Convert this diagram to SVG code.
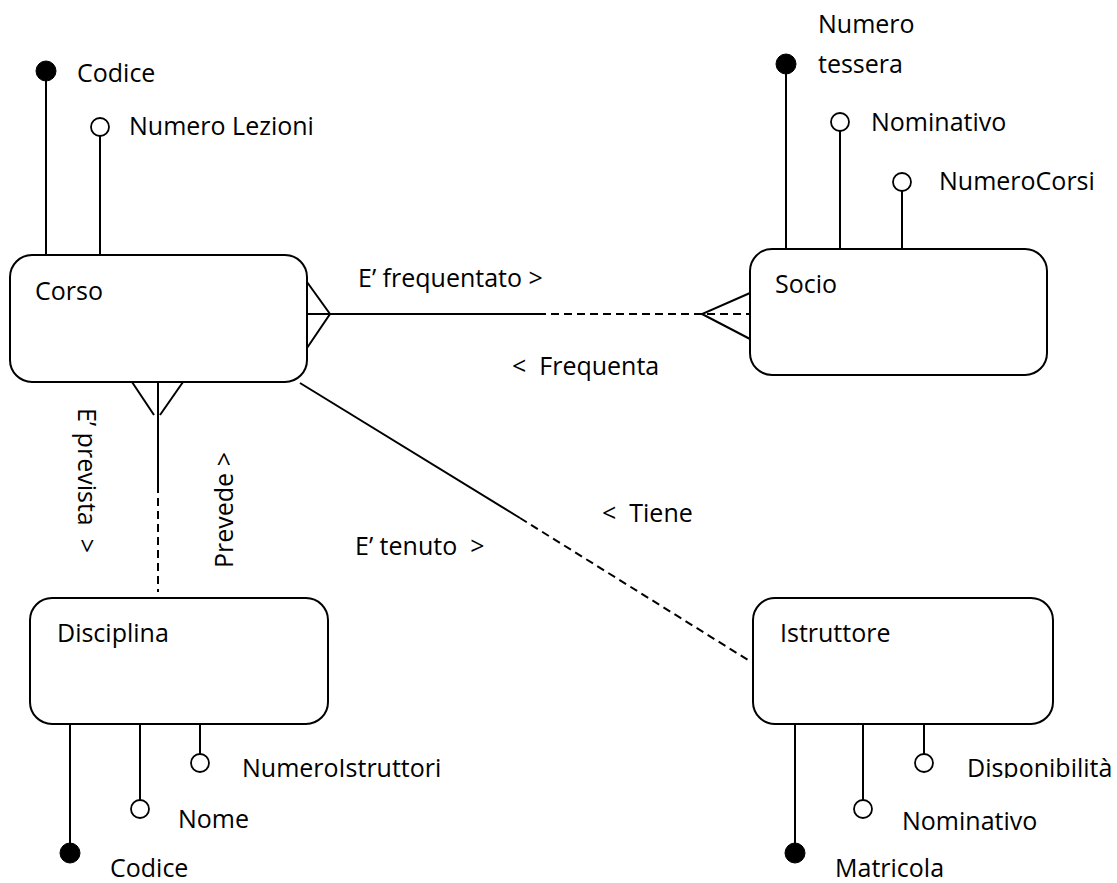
<svg xmlns="http://www.w3.org/2000/svg" width="1117" height="883" viewBox="0 0 1117 883">
<style>
  text { font-family: "Open Sans", "Liberation Sans", sans-serif; font-size: 25px; fill: #000; }
  .box { fill: #fff; stroke: #000; stroke-width: 2; }
  .ln { fill: none; stroke: #000; stroke-width: 2; }
  .dash { fill: none; stroke: #000; stroke-width: 2; stroke-dasharray: 8 5; }
  .key { fill: #000; stroke: #000; stroke-width: 1; }
  .att { fill: #fff; stroke: #000; stroke-width: 1.8; }
</style>
<defs>
  <clipPath id="clipDisp"><rect x="900" y="740" width="217" height="38"/></clipPath>
</defs>
<rect width="1117" height="883" fill="#fff"/>

<g id="connectors">
  <!-- Corso - Socio -->
  <line class="ln" x1="307" y1="314" x2="538" y2="314"/>
  <line class="dash" x1="538" y1="314" x2="750" y2="314"/>
  <polyline class="ln" points="307,282 330,314 307,348"/>
  <polyline class="ln" points="750,293 702,314 750,339"/>
  <!-- Corso - Disciplina -->
  <line class="ln" x1="158" y1="380" x2="158" y2="485"/>
  <line class="dash" x1="158" y1="485" x2="158" y2="592"/>
  <line class="ln" x1="132" y1="382" x2="154" y2="415"/>
  <line class="ln" x1="183" y1="382" x2="160" y2="415"/>
  <!-- Corso - Istruttore -->
  <line class="ln" x1="300" y1="383" x2="520" y2="518"/>
  <line class="dash" x1="520" y1="518" x2="748" y2="660"/>
  <text x="358" y="287">E’ frequentato &gt;</text>
  <text x="512" y="375">&lt;&#160; Frequenta</text>
  <text x="602" y="522">&lt;&#160; Tiene</text>
  <text x="355" y="555">E’ tenuto&#160; &gt;</text>
  <text transform="translate(78,408) rotate(90)">E’ prevista&#160; &gt;</text>
  <text transform="translate(233,568) rotate(-90)">Prevede &gt;</text>
</g>

<g id="corso">
  <line class="ln" x1="46" y1="71" x2="46" y2="255"/>
  <circle class="key" cx="46" cy="71" r="10"/>
  <text x="77" y="82">Codice</text>
  <line class="ln" x1="100" y1="136" x2="100" y2="255"/>
  <circle class="att" cx="100" cy="127" r="9"/>
  <text x="129" y="135">Numero Lezioni</text>
  <rect class="box" x="10" y="255" width="297" height="127" rx="22"/>
  <text x="35" y="300">Corso</text>
</g>

<g id="socio">
  <line class="ln" x1="786" y1="64" x2="786" y2="249"/>
  <circle class="key" cx="786" cy="64" r="10"/>
  <text x="818" y="33">Numero</text>
  <text x="818" y="73">tessera</text>
  <line class="ln" x1="840" y1="131" x2="840" y2="249"/>
  <circle class="att" cx="840" cy="122" r="9"/>
  <text x="871" y="131">Nominativo</text>
  <line class="ln" x1="902" y1="191" x2="902" y2="249"/>
  <circle class="att" cx="902" cy="182" r="9"/>
  <text x="939" y="190">NumeroCorsi</text>
  <rect class="box" x="750" y="249" width="297" height="126" rx="22"/>
  <text x="775" y="293">Socio</text>
</g>

<g id="disciplina">
  <rect class="box" x="30" y="598" width="298" height="126" rx="22"/>
  <text x="57" y="642">Disciplina</text>
  <line class="ln" x1="70" y1="724" x2="70" y2="853"/>
  <circle class="key" cx="70" cy="853" r="10"/>
  <text x="110" y="877">Codice</text>
  <line class="ln" x1="140" y1="724" x2="140" y2="800"/>
  <circle class="att" cx="140" cy="809" r="9"/>
  <text x="178" y="828">Nome</text>
  <line class="ln" x1="200" y1="724" x2="200" y2="754"/>
  <circle class="att" cx="200" cy="763" r="9"/>
  <text x="242" y="777">NumeroIstruttori</text>
</g>

<g id="istruttore">
  <rect class="box" x="753" y="598" width="300" height="126" rx="22"/>
  <text x="780" y="642">Istruttore</text>
  <line class="ln" x1="795" y1="724" x2="795" y2="853"/>
  <circle class="key" cx="795" cy="853" r="10"/>
  <text x="835" y="877">Matricola</text>
  <line class="ln" x1="863" y1="724" x2="863" y2="800"/>
  <circle class="att" cx="863" cy="809" r="9"/>
  <text x="902" y="830">Nominativo</text>
  <line class="ln" x1="924" y1="724" x2="924" y2="754"/>
  <circle class="att" cx="924" cy="763" r="9"/>
  <text x="967" y="777" clip-path="url(#clipDisp)">Disponibilità</text>
</g>
</svg>
